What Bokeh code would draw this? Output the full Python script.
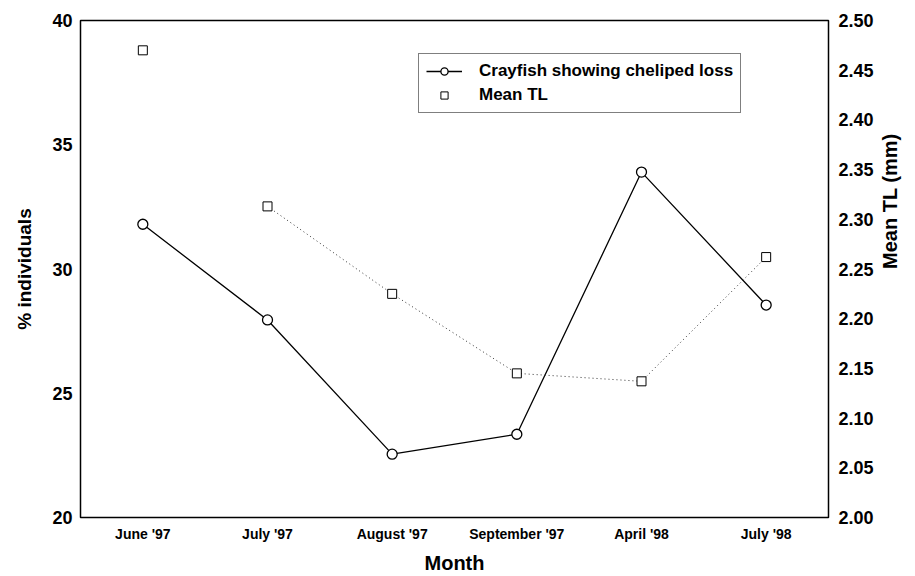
import math
from bokeh.plotting import figure
from bokeh.models import (FactorRange, Range1d, LinearAxis, FixedTicker,
                          PrintfTickFormatter, Legend, LegendItem)
from bokeh.embed import file_html
from bokeh.resources import INLINE

# ---- data ----
months = ["June '97", "July '97", "August '97", "September '97", "April '98", "July '98"]
pct_cheliped_loss = [31.8, 27.95, 22.55, 23.35, 33.9, 28.55]
mean_tl = [2.470, 2.313, 2.225, 2.145, 2.137, 2.262]
left_ticks = [20, 25, 30, 35, 40]
right_ticks = [2.00, 2.05, 2.10, 2.15, 2.20, 2.25, 2.30, 2.35, 2.40, 2.45, 2.50]

FONT = "Liberation Sans"

p = figure(width=915, height=576,
           x_range=FactorRange(*months),
           y_range=Range1d(20, 40),
           output_backend="svg", toolbar_location=None, tools="")
p.extra_y_ranges = {"tl": Range1d(2.0, 2.5)}

p.min_border_left = 80
p.min_border_right = 87
p.min_border_top = 20
p.min_border_bottom = 59
p.background_fill_color = "white"
p.border_fill_color = "white"
p.outline_line_color = "black"
p.outline_line_width = 1.5
p.xgrid.visible = False
p.ygrid.visible = False


def style_axis(ax, tick_size, standoff):
    ax.axis_line_color = None
    ax.major_tick_line_color = None
    ax.minor_tick_line_color = None
    ax.major_tick_out = 0
    ax.major_tick_in = 0
    ax.minor_tick_out = 0
    ax.minor_tick_in = 0
    ax.major_label_text_font = FONT
    ax.major_label_text_font_style = "bold"
    ax.major_label_text_font_size = tick_size
    ax.major_label_text_color = "black"
    ax.major_label_standoff = standoff
    ax.axis_label_text_font = FONT
    ax.axis_label_text_font_style = "bold"
    ax.axis_label_text_color = "black"


# left axis
yl = p.yaxis[0]
yl.ticker = FixedTicker(ticks=left_ticks)
style_axis(yl, "18px", 8)
yl.axis_label = "% individuals"
yl.axis_label_text_font_size = "19px"
yl.axis_label_standoff = 14

# bottom axis
xb = p.xaxis[0]
style_axis(xb, "14px", 8)
xb.axis_label = "Month"
xb.axis_label_text_font_size = "20px"
xb.axis_label_standoff = 7

# right axis
yr = LinearAxis(y_range_name="tl",
                ticker=FixedTicker(ticks=right_ticks),
                formatter=PrintfTickFormatter(format="%.2f"))
style_axis(yr, "18px", 10)
yr.axis_label = "Mean TL (mm)"
yr.axis_label_text_font_size = "20px"
yr.axis_label_standoff = 13
try:
    yr.axis_label_orientation = math.pi / 2
except Exception:
    pass
p.add_layout(yr, "right")

# ---- glyphs ----
loss_line = p.line(months, pct_cheliped_loss, line_color="black", line_width=1.3)
tl_line = p.line(months[1:], mean_tl[1:], y_range_name="tl",
                 line_color="#333333", line_width=1, line_dash="1 3")
loss_pts = p.scatter(months, pct_cheliped_loss, marker="circle", size=10,
                     fill_color="white", line_color="black", line_width=1.3)
tl_pts = p.scatter(months, mean_tl, y_range_name="tl", marker="square", size=9,
                   fill_color="white", line_color="black", line_width=1)

legend = Legend(items=[
    LegendItem(label="Crayfish showing cheliped loss", renderers=[loss_line, loss_pts]),
    LegendItem(label="Mean TL", renderers=[tl_pts]),
], location=(338, 404))
legend.border_line_color = "black"
legend.border_line_width = 1
legend.background_fill_color = "white"
legend.background_fill_alpha = 1
legend.label_text_font = FONT
legend.label_text_font_style = "bold"
legend.label_text_font_size = "17px"
legend.label_text_color = "black"
legend.glyph_width = 36
legend.glyph_height = 18
legend.label_height = 18
legend.label_standoff = 17
legend.padding = 7
legend.spacing = 4
legend.margin = 0
p.add_layout(legend)

open("out.html", "w").write(file_html(p, INLINE))
